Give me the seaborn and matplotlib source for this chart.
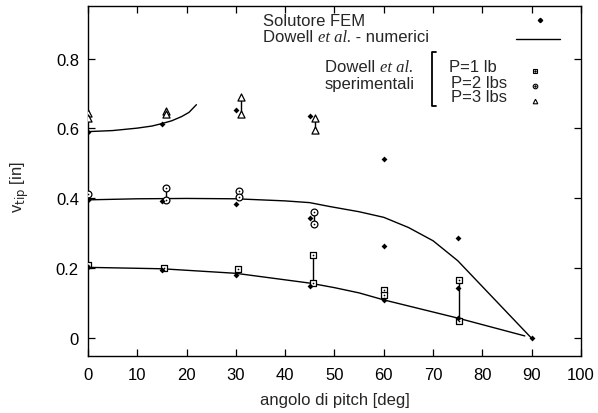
import matplotlib
matplotlib.use("Agg")
import matplotlib.pyplot as plt
import seaborn as sns
import pandas as pd
import numpy as np

# ---- data ----
fem_x = [0, 15, 30, 45, 60, 75, 0, 15, 30, 45, 60, 75, 0, 15, 30, 45, 60, 75, 90]
fem_y = [0.589, 0.613, 0.653, 0.635, 0.513, 0.287,
         0.396, 0.393, 0.383, 0.344, 0.265, 0.145,
         0.203, 0.196, 0.180, 0.150, 0.109, 0.058, 0.0]

num3_x = [0, 5, 10, 13, 15, 17, 19, 20.5, 22]
num3_y = [0.591, 0.594, 0.601, 0.607, 0.614, 0.622, 0.634, 0.646, 0.668]
num2_x = [0, 10, 20, 30, 40, 45, 49, 55, 60, 65, 70, 75, 90]
num2_y = [0.396, 0.399, 0.400, 0.399, 0.393, 0.388, 0.377, 0.362, 0.346, 0.317, 0.279, 0.222, 0.0]
num1_x = [0, 15, 30, 45, 50, 55, 60, 75, 88.6]
num1_y = [0.203, 0.199, 0.186, 0.158, 0.145, 0.130, 0.110, 0.058, 0.007]

exp1_x = [0, 15.5, 30.5, 45.7, 45.7, 60.1, 60.1, 75.3, 75.3]
exp1_y = [0.209, 0.201, 0.198, 0.238, 0.157, 0.139, 0.124, 0.166, 0.049]
exp2_x = [0, 15.8, 15.8, 30.7, 30.7, 45.8, 45.8]
exp2_y = [0.414, 0.429, 0.396, 0.421, 0.403, 0.360, 0.327]
exp3_x = [0, 0, 15.9, 15.9, 31, 31, 46, 46]
exp3_y = [0.644, 0.631, 0.650, 0.641, 0.689, 0.641, 0.629, 0.595]

x_ticks = [0, 10, 20, 30, 40, 50, 60, 70, 80, 90, 100]
y_ticks = [0, 0.2, 0.4, 0.6, 0.8]
y_ticklabels = ["0", "0.2", "0.4", "0.6", "0.8"]

# ---- style ----
sns.set_style("ticks")
plt.rcParams["font.family"] = ["Liberation Sans", "DejaVu Sans"]
plt.rcParams["font.size"] = 12
FS = 12

fig = plt.figure(figsize=(5.98, 4.14), dpi=100)
ax = fig.add_axes([0.147, 0.138, 0.8246, 0.845])

# numeric curves
for nx, ny in [(num1_x, num1_y), (num2_x, num2_y), (num3_x, num3_y)]:
    sns.lineplot(x=nx, y=ny, ax=ax, color="black", lw=1.0, sort=False,
                 estimator=None)

# vertical bars joining experimental values
for ex, ey in [(exp1_x, exp1_y), (exp2_x, exp2_y), (exp3_x, exp3_y)]:
    df = pd.DataFrame({"x": ex, "y": ey}).groupby("x")["y"].agg(["min", "max"]).reset_index()
    df = df[df["max"] > df["min"]]
    ax.vlines(df["x"], df["min"], df["max"], color="black", lw=1.0, zorder=3)

# experimental markers
sns.scatterplot(x=exp1_x, y=exp1_y, ax=ax, marker="s", s=20, facecolor="white",
                edgecolor="black", linewidth=0.9, zorder=4)
sns.scatterplot(x=exp1_x, y=exp1_y, ax=ax, marker="o", s=1.5, color="black",
                linewidth=0, zorder=5)
sns.scatterplot(x=exp2_x, y=exp2_y, ax=ax, marker="o", s=24, facecolor="white",
                edgecolor="black", linewidth=0.9, zorder=4)
sns.scatterplot(x=exp2_x, y=exp2_y, ax=ax, marker="o", s=1.5, color="black",
                linewidth=0, zorder=5)
sns.scatterplot(x=exp3_x, y=exp3_y, ax=ax, marker="^", s=26, facecolor="white",
                edgecolor="black", linewidth=0.9, zorder=4)

# FEM points
sns.scatterplot(x=fem_x, y=fem_y, ax=ax, marker="D", s=9, color="black",
                linewidth=0, zorder=6)

ax.set_xlim(0, 100)
ax.set_ylim(-0.05, 0.95)
ax.set_xticks(x_ticks)
ax.set_yticks(y_ticks)
ax.set_yticklabels(y_ticklabels)
ax.tick_params(direction="in", length=5, width=0.9, top=True, right=True,
               labelsize=FS, colors="black")
ax.tick_params(axis="y", pad=6.5)
ax.tick_params(axis="x", pad=8)
for sp in ax.spines.values():
    sp.set_linewidth(1.0)
    sp.set_color("black")
    sp.set_visible(True)

ax.set_xlabel("angolo di pitch [deg]", fontsize=FS, va="center")
ax.xaxis.set_label_coords(0.501, -0.124)
ax.set_ylabel(r"v$_{\mathrm{tip}}$ [in]", fontsize=FS, va="center")
ax.yaxis.set_label_coords(-0.138, 0.485)

# ---- manual legend (figure pixel coords) ----
W, H = 598.0, 414.0
def fx(px): return px / W
def fy(py): return 1 - py / H

serif = ["Liberation Serif", "DejaVu Serif"]
fig.text(fx(263), fy(22), "Solutore FEM", ha="left", va="center", fontsize=FS)
t = fig.text(fx(263), fy(38), "Dowell ", ha="left", va="center", fontsize=FS)
fig.canvas.draw()
r = fig.canvas.get_renderer()
bb = t.get_window_extent(r)
t2 = fig.text(bb.x1 / W, fy(38), "et al.", ha="left", va="center", fontsize=FS,
              family=serif, style="italic")
bb2 = t2.get_window_extent(r)
fig.text(bb2.x1 / W, fy(38), " - numerici", ha="left", va="center", fontsize=FS)

t3 = fig.text(fx(325), fy(68), "Dowell ", ha="left", va="center", fontsize=FS)
bb3 = t3.get_window_extent(r)
fig.text(bb3.x1 / W, fy(68), "et al.", ha="left", va="center", fontsize=FS,
         family=serif, style="italic")
fig.text(fx(325), fy(84), "sperimentali", ha="left", va="center", fontsize=FS)

# bracket
fig.add_artist(plt.Line2D([fx(436), fx(432), fx(432), fx(436)],
                          [fy(53), fy(53), fy(107), fy(107)],
                          color="black", lw=1.3))
fig.text(fx(449), fy(68), "P=1 lb", ha="left", va="center", fontsize=FS)
fig.text(fx(451), fy(84), "P=2 lbs", ha="left", va="center", fontsize=FS)
fig.text(fx(451), fy(98), "P=3 lbs", ha="left", va="center", fontsize=FS)

# legend samples
fig.add_artist(plt.Line2D([fx(540)], [fy(21)], marker="D", ms=2.2, color="black", lw=0))
fig.add_artist(plt.Line2D([fx(516), fx(560)], [fy(39.5), fy(39.5)], color="black", lw=1.0))
fig.add_artist(plt.Line2D([fx(535)], [fy(71.5)], marker="s", ms=3.3, mfc="white",
                          mec="black", mew=0.8, lw=0))
fig.add_artist(plt.Line2D([fx(535)], [fy(71.5)], marker="o", ms=0.8, color="black", lw=0))
fig.add_artist(plt.Line2D([fx(535)], [fy(86.5)], marker="o", ms=3.3, mfc="white",
                          mec="black", mew=0.8, lw=0))
fig.add_artist(plt.Line2D([fx(535)], [fy(86.5)], marker="o", ms=0.8, color="black", lw=0))
fig.add_artist(plt.Line2D([fx(535)], [fy(101.5)], marker="^", ms=3.3, mfc="white",
                          mec="black", mew=0.8, lw=0))

fig.savefig("out.png", dpi=100)
